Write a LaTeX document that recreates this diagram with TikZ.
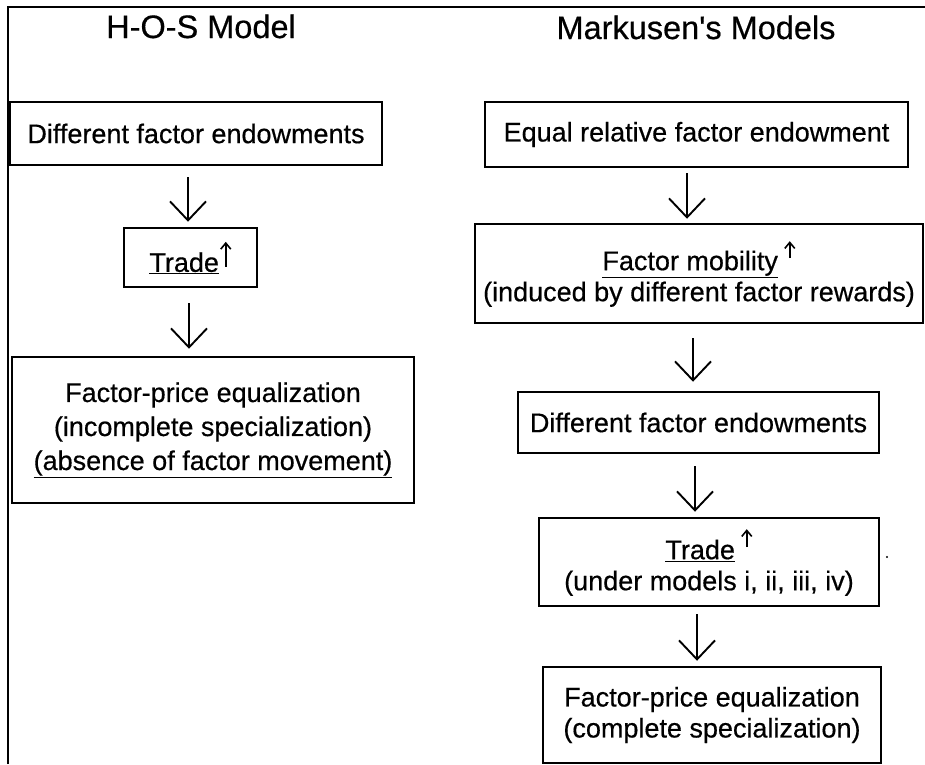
\documentclass[tikz,border=0pt]{standalone}
\usepackage{fontspec}
\setmainfont{Liberation Sans}[FakeBold=0.5]
\usetikzlibrary{arrows.meta}
% small upward arrow set after a word: #1 gap, #2 bottom and #3 top above the baseline
\newcommand\risemark[3]{\hspace*{#1}\tikz[baseline=0pt]\draw[line width=1.6pt,
  -{Straight Barb[length=6pt,width=10pt,line width=1.6pt]}] (0pt,#2) -- (0pt,#3);}
\begin{document}
\begin{tikzpicture}[x=1pt,y=-1pt,
  box/.style={draw, line width=2.5pt, align=center, inner sep=0pt,
              font=\fontsize{27}{31}\selectfont},
  flow/.style={line width=1.9pt,
               -{Straight Barb[length=19pt,width=36pt,line width=1.9pt]}},
  title/.style={anchor=base, inner sep=0pt, font=\fontsize{32.5}{36}\selectfont}]
\useasboundingbox (0,0) rectangle (925,764);

% outer frame (top and left rules)
\draw[line width=2.2pt] (8,764) -- (8,7) -- (925,7);

% column headings
\node[title] (hosT) at (201,38) {H-O-S Model};
\node[title] (marT) at (696,39) {Markusen\textquotesingle s Models};

% H-O-S chain
\node[box, minimum width=133pt, minimum height=59pt] (L2) at (190.5,257.5)
  {\underline{Trade}\risemark{1pt}{5pt}{30pt}};
\node[box, minimum width=372pt, minimum height=63pt] (L1) at (196,133.5)
  {Different factor endowments};
\node[box, minimum width=402pt, minimum height=146pt,
      font=\fontsize{27}{34}\selectfont] (L3) at (213,430)
  {Factor-price equalization\\(incomplete specialization)\\\underline{(absence of factor movement)}};

% Markusen chain
\node[box, minimum width=423pt, minimum height=65pt] (R1) at (696.5,134.5)
  {Equal relative factor endowment};
\node[box, minimum width=448pt, minimum height=99pt] (R2) at (699,273.5)
  {\underline{Factor mobility}\risemark{6pt}{12pt}{29pt}\\(induced by different factor rewards)};
\node[box, minimum width=361pt, minimum height=61pt] (R3) at (698.5,422.5)
  {Different factor endowments};
\node[box, minimum width=340pt, minimum height=88pt] (R4) at (709,562)
  {\underline{Trade}\risemark{6pt}{12pt}{30pt}\\(under models i, ii, iii, iv)};
\node[box, minimum width=338pt, minimum height=96pt] (R5) at (712,715)
  {Factor-price equalization\\(complete specialization)};

% connectors
\draw[flow, shorten <=11pt, shorten >=5pt] ([xshift=-2.5pt]L2.north |- L1.south) -- ([xshift=-2.5pt]L2.north);
\draw[flow, shorten <=15pt, shorten >=7pt] ([xshift=-1.5pt]L2.south) -- ([xshift=-1.5pt]L2.south |- L3.north);

\draw[flow, shorten <=5pt, shorten >=4pt] ([xshift=-9.5pt]R1.south) -- ([xshift=-9.5pt]R1.south |- R2.north);
\draw[flow, shorten <=14pt, shorten >=9pt] ([xshift=-6pt]R2.south) -- ([xshift=-6pt]R2.south |- R3.north);
\draw[flow, shorten <=12pt, shorten >=5pt] ([xshift=-3.5pt]R3.south) -- ([xshift=-3.5pt]R3.south |- R4.north);
\draw[flow, shorten <=7pt, shorten >=5pt] ([xshift=-12pt]R4.south) -- ([xshift=-12pt]R4.south |- R5.north);

% small speck to the right of the trade box
\fill (887,557) circle (1.2pt);
\end{tikzpicture}
\end{document}
